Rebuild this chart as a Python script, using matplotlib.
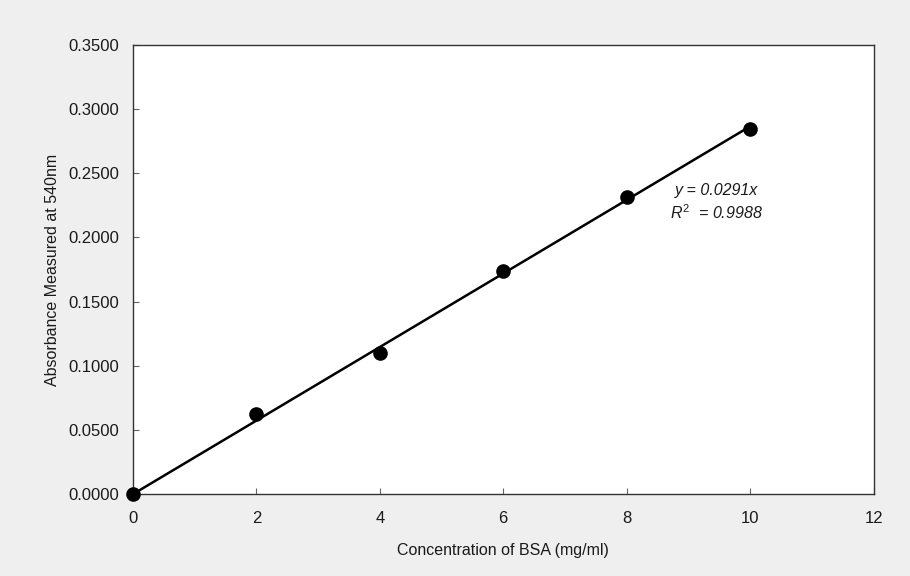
import numpy as np
import matplotlib
matplotlib.use("Agg")
import matplotlib.pyplot as plt

plt.rcParams['font.family'] = ['Liberation Sans', 'DejaVu Sans']
plt.rcParams['mathtext.fontset'] = 'custom'
plt.rcParams['mathtext.rm'] = 'Liberation Sans'
plt.rcParams['mathtext.it'] = 'Liberation Sans:italic'

# BSA standard curve readings
conc = [0, 2, 4, 6, 8, 10]
absorbance = [0.0, 0.0624, 0.1100, 0.1738, 0.2315, 0.2845]
eq_label = 'y = 0.0291x'
r2_label = '0.9988'

fig = plt.figure(figsize=(9.1, 5.76), dpi=100)
fig.patch.set_facecolor('#efefef')
ax = fig.add_axes([0.146, 0.142, 0.814, 0.780])
ax.set_facecolor('white')

# least squares trendline forced through origin
x = np.array(conc, dtype=float)
y = np.array(absorbance)
k = (x * y).sum() / (x * x).sum()
ax.plot([0, x.max()], [0, k * x.max()], color='black', lw=1.8, zorder=2)
ax.plot(conc, absorbance, 'o', color='black', markersize=9.5, zorder=3,
        clip_on=False)

ax.set_xlim(0, 12)
ax.set_ylim(0, 0.35)
ax.set_xticks(range(0, 13, 2))
yt = np.arange(0, 0.351, 0.05)
ax.set_yticks(yt)
ax.set_yticklabels([f'{v:.4f}' for v in yt])
ax.tick_params(direction='in', length=4, labelsize=12, color='#666666',
               labelcolor='#1a1a1a')
ax.tick_params(axis='x', pad=12)
ax.tick_params(axis='y', pad=10)
for s in ax.spines.values():
    s.set_color('#333333')
    s.set_linewidth(1.0)

ax.set_xlabel('Concentration of BSA (mg/ml)', fontsize=11.5, labelpad=12,
              color='#1a1a1a')
ax.set_ylabel('Absorbance Measured at 540nm', fontsize=11.5, labelpad=6,
              color='#1a1a1a')

ax.text(9.45, 0.2275, f'{eq_label}\n$R^2$  = {r2_label}', fontsize=11.5,
        style='italic', ha='center', va='center', linespacing=1.35,
        color='#1a1a1a')

fig.savefig('out.png', dpi=100, facecolor=fig.get_facecolor())
